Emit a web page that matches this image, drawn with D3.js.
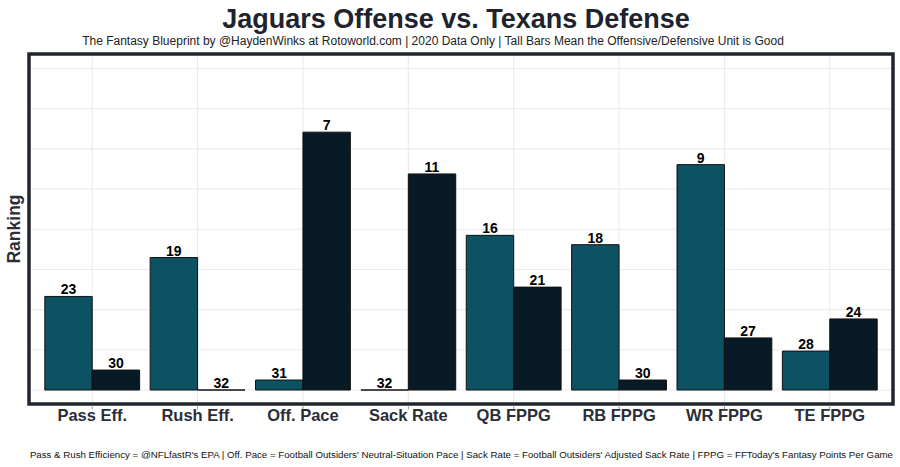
<!DOCTYPE html>
<html><head><meta charset="utf-8">
<script src="https://cdn.jsdelivr.net/npm/d3@7/dist/d3.min.js"></script>
<style>body{margin:0;background:#fff;} svg{display:block;font-family:"Liberation Sans",Arial,sans-serif;}</style>
</head><body>
<svg id="c" width="900" height="467"></svg>
<script>
const categories = ["Pass Eff.","Rush Eff.","Off. Pace","Sack Rate","QB FPPG","RB FPPG","WR FPPG","TE FPPG"];
const offenseRanks = [23,19,31,32,16,18,9,28];
const defenseRanks = [30,32,7,11,21,30,27,24];
// bar heights (0-100 score scale)
const offenseScores = [29.1,41.2,3.1,0,48.1,45.2,70.1,12.1];
const defenseScores = [6.2,0,80.2,67.2,32.0,3.1,16.2,22.1];
const units = ["Offense","Defense"];
const unitColors = ["#0d5263","#071a26"];
const gridTicks = [0,12.5,25,37.5,50,62.5,75,87.5,100];

(function(){
const svg = d3.select("#c");
const pL = 29, pR = 893, pT = 54, pB = 404;

const x = d3.scaleBand().domain(categories).range([pL, pR]).paddingOuter(0.1).paddingInner(0);
const bw = x.bandwidth();
const xu = d3.scaleBand().domain(units).range([0.05*bw, 0.95*bw]).padding(0);

const y = d3.scaleLinear().domain([0,100]).range([390, 68.5]);

const g = svg.append("g");
g.selectAll("line.h").data(gridTicks).join("line").attr("class","h")
  .attr("x1", pL).attr("x2", pR).attr("y1", d=>y(d)).attr("y2", d=>y(d))
  .attr("stroke","#ebebeb").attr("stroke-width",1.1);
g.selectAll("line.v").data(categories).join("line").attr("class","v")
  .attr("x1", d=>x(d)+bw/2).attr("x2", d=>x(d)+bw/2)
  .attr("y1", pT).attr("y2", pB)
  .attr("stroke","#ebebeb").attr("stroke-width",1.1);

const data = [];
categories.forEach((c,i)=>{
  data.push({cat:c, unit:"Offense", rank:offenseRanks[i], v:offenseScores[i]});
  data.push({cat:c, unit:"Defense", rank:defenseRanks[i], v:defenseScores[i]});
});
const color = d3.scaleOrdinal().domain(units).range(unitColors);
svg.append("g").selectAll("path").data(data).join("path")
  .attr("d", d=>{
    const x0 = x(d.cat)+xu(d.unit), x1 = x0 + xu.bandwidth();
    const y0 = y(0), y1 = y(d.v);
    return `M${x0},${y0}L${x0},${y1}L${x1},${y1}L${x1},${y0}Z`;
  })
  .attr("fill", d=>color(d.unit))
  .attr("stroke","#111").attr("stroke-width",1);

svg.append("g").selectAll("text").data(data).join("text")
  .attr("x", d=>x(d.cat)+xu(d.unit)+xu.bandwidth()/2)
  .attr("y", d=>y(d.v)-2)
  .attr("text-anchor","middle")
  .attr("font-size",14).attr("font-weight","bold").attr("fill","#000")
  .text(d=>d.rank);

svg.append("rect").attr("x",pL).attr("y",pT).attr("width",pR-pL).attr("height",pB-pT)
  .attr("fill","none").attr("stroke","#22252e").attr("stroke-width",3.5);

const xa = svg.append("g").attr("transform",`translate(0,${pB+1.5})`)
  .call(d3.axisBottom(x).tickSize(4).tickPadding(5));
xa.select(".domain").remove();
xa.selectAll(".tick line").attr("stroke","#999");
xa.selectAll(".tick text").attr("y",15.5).attr("dy",0)
  .attr("font-size",16.5).attr("font-weight","bold").attr("fill","#2b2e38")
  .attr("font-family","Liberation Sans, Arial, sans-serif");

svg.append("text").attr("transform",`translate(20,229) rotate(-90)`)
  .attr("text-anchor","middle").attr("font-size",17.5).attr("font-weight","bold").attr("fill","#2b2e38")
  .text("Ranking");

svg.append("text").attr("x",(pL+pR)/2 - 5).attr("y",28).attr("text-anchor","middle")
  .attr("font-size",27).attr("font-weight","bold").attr("fill","#20232d")
  .text("Jaguars Offense vs. Texans Defense");
svg.append("text").attr("x",(pL+pR)/2 - 28).attr("y",45).attr("text-anchor","middle")
  .attr("font-size",12).attr("fill","#222")
  .text("The Fantasy Blueprint by @HaydenWinks at Rotoworld.com | 2020 Data Only | Tall Bars Mean the Offensive/Defensive Unit is Good");
svg.append("text").attr("x",pR).attr("y",458).attr("text-anchor","end")
  .attr("font-size",9.7).attr("fill","#111")
  .text("Pass & Rush Efficiency = @NFLfastR's EPA | Off. Pace = Football Outsiders' Neutral-Situation Pace | Sack Rate = Football Outsiders' Adjusted Sack Rate | FPPG = FFToday's Fantasy Points Per Game");
})();
</script>
</body></html>
